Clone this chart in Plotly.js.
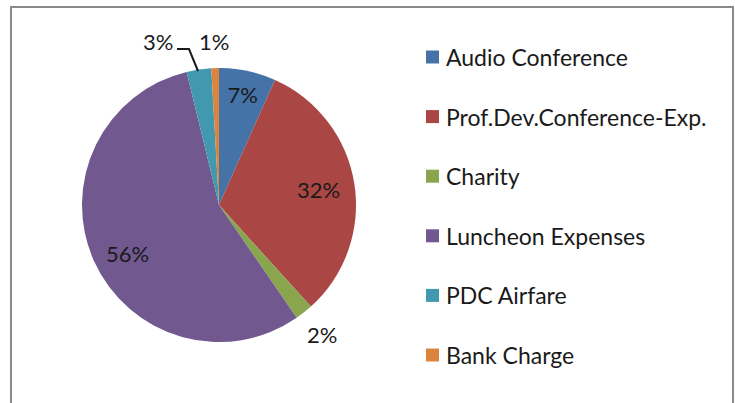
<!DOCTYPE html>
<html>
<head>
<meta charset="utf-8">
<script src="https://cdn.plot.ly/plotly-3.0.1.min.js"></script>
<style>html,body{margin:0;padding:0;background:#fff;}#chart{width:735px;height:403px;}</style>
</head>
<body>
<div id="chart"></div>
<script>
const categories = ["Audio Conference", "Prof.Dev.Conference-Exp.", "Charity", "Luncheon Expenses", "PDC Airfare", "Bank Charge"];
const shares = [6.7, 31.6, 2.1, 55.8, 2.9, 0.9];
const colors = ["#4572A7", "#AA4643", "#89A54E", "#71588F", "#4198AF", "#DB843D"];
const labelPositions = ["inside", "none", "none", "none", "none", "none"];

const W = 735, H = 403;
const cx = 219, cy = 205, R = 137;
const FONT = "Lato, 'Liberation Sans', sans-serif";
const TXT = "#1a1a1a";
const px = x => x / W, py = y => 1 - y / H;

const trace = {
  type: "pie",
  labels: categories,
  values: shares,
  sort: false,
  direction: "clockwise",
  rotation: 0,
  marker: {colors: colors, line: {width: 0}},
  texttemplate: "%{percent:.0%}",
  textposition: labelPositions,
  insidetextorientation: "horizontal",
  textfont: {family: FONT, size: 22, color: TXT},
  outsidetextfont: {family: FONT, size: 22, color: TXT},
  insidetextfont: {family: FONT, size: 22, color: TXT},
  hoverinfo: "label+percent",
  showlegend: false,
  automargin: false,
  domain: {x: [px(cx - R), px(cx + R)], y: [py(cy + R), py(cy - R)]}
};

const total = shares.reduce((a, b) => a + b, 0);
const pct = i => Math.round(shares[i] / total * 100) + "%";

const shapes = [{
  type: "rect", xref: "paper", yref: "paper",
  x0: px(11), x1: px(733), y0: -0.05, y1: py(7),
  line: {color: "#8a8a8a", width: 2}, fillcolor: "rgba(0,0,0,0)"
}, {
  type: "path", xref: "paper", yref: "paper",
  path: `M ${px(177)} ${py(49)} L ${px(189)} ${py(49)} L ${px(198)} ${py(71)}`,
  line: {color: "#1a1a1a", width: 2}
}];
const labelSpots = [[1, 318, 189], [2, 322, 334], [3, 128, 253], [4, 158, 42], [5, 214, 42]];
const annotations = labelSpots.map(([i, x, y]) => ({
  xref: "paper", yref: "paper", x: px(x), y: py(y), xanchor: "center", yanchor: "middle",
  showarrow: false, text: pct(i), font: {family: FONT, size: 22, color: TXT}
}));
const legX = 426, legY0 = 57, legStep = 59.6, sq = 13;
categories.forEach((c, i) => {
  const y = legY0 + i * legStep;
  shapes.push({
    type: "rect", xref: "paper", yref: "paper",
    x0: px(legX), x1: px(legX + sq),
    y0: py(y + sq / 2), y1: py(y - sq / 2),
    line: {width: 0}, fillcolor: colors[i]
  });
  annotations.push({
    xref: "paper", yref: "paper", x: px(legX + sq + 5), y: py(y),
    xanchor: "left", yanchor: "middle", showarrow: false,
    text: c, font: {family: FONT, size: 23, color: TXT}
  });
});

const layout = {
  width: W, height: H,
  margin: {l: 0, r: 0, t: 0, b: 0},
  paper_bgcolor: "#ffffff",
  plot_bgcolor: "#ffffff",
  showlegend: false,
  shapes: shapes,
  annotations: annotations
};

Plotly.newPlot("chart", [trace], layout, {displayModeBar: false, staticPlot: true});
</script>
</body>
</html>
